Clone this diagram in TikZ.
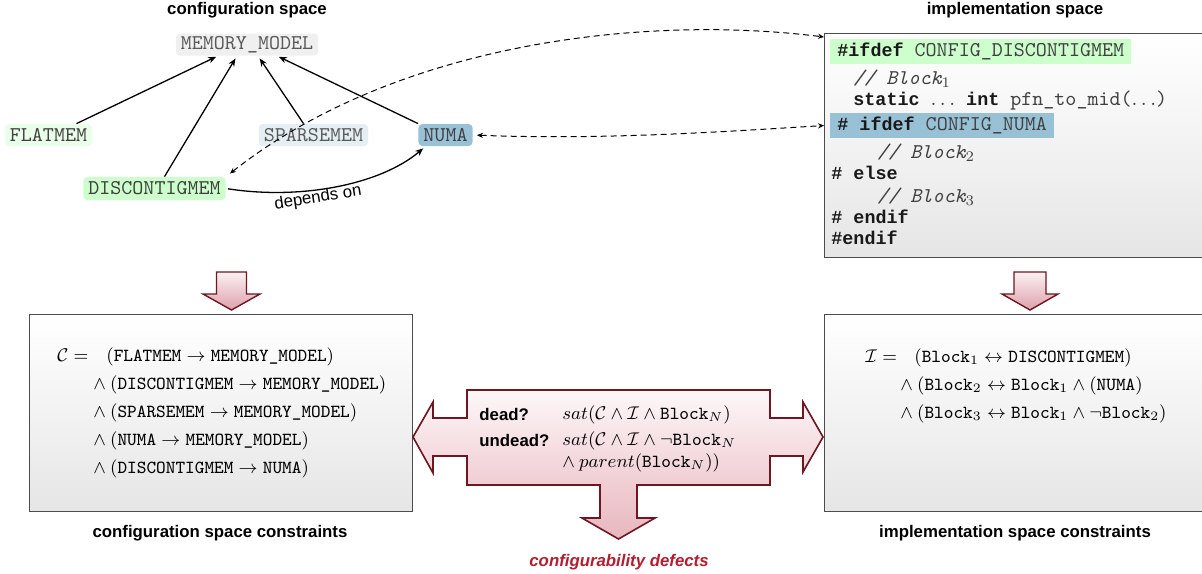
\RequirePackage{fix-cm}
\documentclass[tikz,border=0pt]{standalone}
\usepackage{fontspec}
\usetikzlibrary{arrows.meta,calc}
\newfontfamily\sansf{Liberation Sans}
\newfontfamily\monof{Liberation Mono}
\definecolor{mmfill}{RGB}{240,240,240}
\definecolor{flatfill}{RGB}{234,255,234}
\definecolor{sparsefill}{RGB}{228,238,243}
\definecolor{numafill}{RGB}{152,193,214}
\definecolor{discfill}{RGB}{204,255,204}
\definecolor{maroon}{RGB}{110,22,34}
\definecolor{pinktop}{RGB}{251,240,242}
\definecolor{pinkbot}{RGB}{222,160,172}
\definecolor{midtop}{RGB}{253,247,248}
\definecolor{midbot}{RGB}{232,182,190}
\definecolor{defectred}{RGB}{178,30,48}
\newcommand\sansfont{\sansf\fontsize{8.4}{10}\selectfont}
\newcommand\codefont{\ttfamily\fontsize{10.5}{12}\selectfont}
\newcommand\mathfontsz{\fontsize{9.2}{11}\selectfont}
\newcommand\tv[1]{\mbox{\ttfamily #1}}
\newcommand\kw[1]{{\monof\bfseries\fontsize{9.2}{12}\selectfont\color{black!90}#1}}
\tikzset{
 feat/.style={rounded corners=2pt, inner xsep=2.5pt, inner ysep=0pt, minimum height=11pt, font=\codefont, text=black!75},
 title/.style={font=\sansfont\bfseries, inner sep=0pt},
 dep/.style={-{Stealth[length=4pt,width=3.2pt]}, line width=0.65pt, black},
 link/.style={{Stealth[length=3pt,width=2.6pt]}-{Stealth[length=3pt,width=2.6pt]}, dash pattern=on 3pt off 2pt, line width=0.5pt, black},
 panel/.style={draw=black!70, line width=0.6pt, top color=white, bottom color=black!10, inner sep=0pt},
 codeline/.style={anchor=base west, inner sep=0pt, font=\codefont, text=black!75},
 hl/.style={anchor=west, inner xsep=3.5pt, inner ysep=0pt, minimum height=12.5pt, text height=6.5pt, text depth=1.8pt, font=\codefont, text=black!75},
 fline/.style={anchor=base west, inner sep=0pt, font=\mathfontsz},
 question/.style={anchor=base west, inner sep=0pt, font=\sansfont\bfseries},
 blockarrow/.style={draw=maroon, line width=0.7pt, top color=pinktop, bottom color=pinkbot, line join=miter},
 bigarrow/.style={draw=maroon, line width=0.8pt, top color=midtop, bottom color=midbot, line join=miter},
}
\begin{document}
\begin{tikzpicture}[x=0.5pt,y=-0.5pt]
\useasboundingbox (0,0) rectangle (1202,573);
\fill[white] (0,0) rectangle (1202,573);

% titles
\node[title] (t1) at (247,10) {configuration space};
\node[title] (t2) at (1015,10) {implementation space};

% feature nodes
\node[feat, fill=mmfill, text=black!65] (mm) at (247,44.5) {MEMORY\_MODEL};
\node[feat, fill=flatfill] (flat) at (48.5,135) {FLATMEM};
\node[feat, fill=sparsefill, text=black!65] (sparse) at (313.5,135) {SPARSEMEM};
\node[feat, fill=numafill] (numa) at (445.5,135) {NUMA};
\node[feat, fill=discfill, minimum height=11.5pt] (disc) at (154.5,188.5) {DISCONTIGMEM};

% hierarchy arrows
\draw[dep, shorten >=1pt] ([xshift=14pt]flat.north) -- ([xshift=-14.5pt]mm.south);
\draw[dep, shorten >=1.5pt] ([xshift=5pt]disc.north) -- ([xshift=-5pt]mm.south);
\draw[dep, shorten >=1.5pt] ([xshift=-5pt]sparse.north) -- ([xshift=5.5pt]mm.south);
\draw[dep, shorten >=1pt] (numa.north west) -- ([xshift=15pt]mm.south);

% depends on
\draw[dep, shorten <=1pt, shorten >=1.5pt] (disc.east) .. controls (300,200) and (380,185) .. ([xshift=-10pt]numa.south);
\node[font=\sansfont, rotate=9, inner sep=0pt] (deplabel) at (318,198) {depends on};

% code panel
\node[panel, anchor=north west, minimum width=191pt, minimum height=112pt] (code) at (824,33) {};
\node[hl, fill=discfill] (l1) at (830,51.5) {\kw{\#ifdef} CONFIG\_DISCONTIGMEM};
\node[codeline] (l2) at (853,84) {{\itshape // Block}$_1$};
\node[codeline] (l3) at (853,105) {\kw{static} $\ldots$ \kw{int} pfn\_to\_mid($\ldots$)};
\node[hl, fill=numafill] (l4) at (830,125.5) {\kw{\# ifdef} CONFIG\_NUMA};
\node[codeline] (l5) at (877,158) {{\itshape // Block}$_2$};
\node[codeline] (l6) at (831,179) {\kw{\# else}};
\node[codeline] (l7) at (877,202) {{\itshape // Block}$_3$};
\node[codeline] (l8) at (831,223) {\kw{\# endif}};
\node[codeline] (l9) at (831,244) {\kw{\#endif}};

% dashed links
\draw[link, shorten <=2.5pt] (disc.north east) .. controls (400,40) and (650,15) .. ([yshift=-2pt]code.north west);
\draw[link, shorten <=2pt] (numa.east) .. controls (600,140) and (720,132) .. (code.west |- l4.west);

% down block arrows
\draw[blockarrow] (216.5,272) -- (246.5,272) -- (246.5,294) -- (260,294) -- (231.5,310) -- (203,294) -- (216.5,294) -- cycle;
\draw[blockarrow] (1014,272) -- (1046,272) -- (1046,294) -- (1058,294) -- (1030,310) -- (1002,294) -- (1014,294) -- cycle;

% constraint panels
\node[panel, anchor=north west, minimum width=191.5pt, minimum height=98.5pt] (cpanel) at (29,314) {};
\node[panel, anchor=north west, minimum width=191pt, minimum height=98.5pt] (ipanel) at (824,314) {};

\node[fline] (ceq) at (57,361.5) {$\mathcal{C} =$};
\node[fline] (c1) at (106,361.5) {$(\tv{FLATMEM} \rightarrow \tv{MEMORY\_MODEL})$};
\node[fline] (c2) at (93,389.5) {$\land\:(\tv{DISCONTIGMEM} \rightarrow \tv{MEMORY\_MODEL})$};
\node[fline] (c3) at (93,417.5) {$\land\:(\tv{SPARSEMEM} \rightarrow \tv{MEMORY\_MODEL})$};
\node[fline] (c4) at (93,445.5) {$\land\:(\tv{NUMA} \rightarrow \tv{MEMORY\_MODEL})$};
\node[fline] (c5) at (93,473.5) {$\land\:(\tv{DISCONTIGMEM} \rightarrow \tv{NUMA})$};

\node[fline] (ieq) at (865,362.5) {$\mathcal{I} =$};
\node[fline] (i1) at (914,362.5) {$(\tv{Block}_1 \leftrightarrow \tv{DISCONTIGMEM})$};
\node[fline] (i2) at (900,390.5) {$\land\:(\tv{Block}_2 \leftrightarrow \tv{Block}_1 \land (\tv{NUMA})$};
\node[fline] (i3) at (900,418.5) {$\land\:(\tv{Block}_3 \leftrightarrow \tv{Block}_1 \land \neg\tv{Block}_2)$};

\node[title] (cl) at (220,533) {configuration space constraints};
\node[title] (il) at (1015,533) {implementation space constraints};

% middle analysis arrow
\draw[bigarrow] (413,437) -- (433,402) -- (433,418) -- (467,418) -- (467,390) -- (770,390) -- (770,418) -- (803,418) -- (803,402) -- (823,437) -- (803,472) -- (803,456) -- (770,456) -- (770,485) -- (637,485) -- (637,518) -- (655,518) -- (618.5,539) -- (582,518) -- (600,518) -- (600,485) -- (467,485) -- (467,456) -- (433,456) -- (433,473) -- cycle;

\node[question] (qd) at (479,420) {dead?};
\node[question] (qu) at (479,446) {undead?};
\node[fline] (sd) at (562,419.5) {$sat(\mathcal{C}\land\mathcal{I}\land\tv{Block}_N)$};
\node[fline] (su) at (562,445.5) {$sat(\mathcal{C}\land\mathcal{I}\land\neg\tv{Block}_N$};
\node[fline] (sp) at (562,467.5) {$\land\:parent(\tv{Block}_N))$};

\node[font=\sansfont\bfseries\itshape, text=defectred, inner sep=0pt] (defects) at (619,562) {configurability defects};
\end{tikzpicture}
\end{document}
